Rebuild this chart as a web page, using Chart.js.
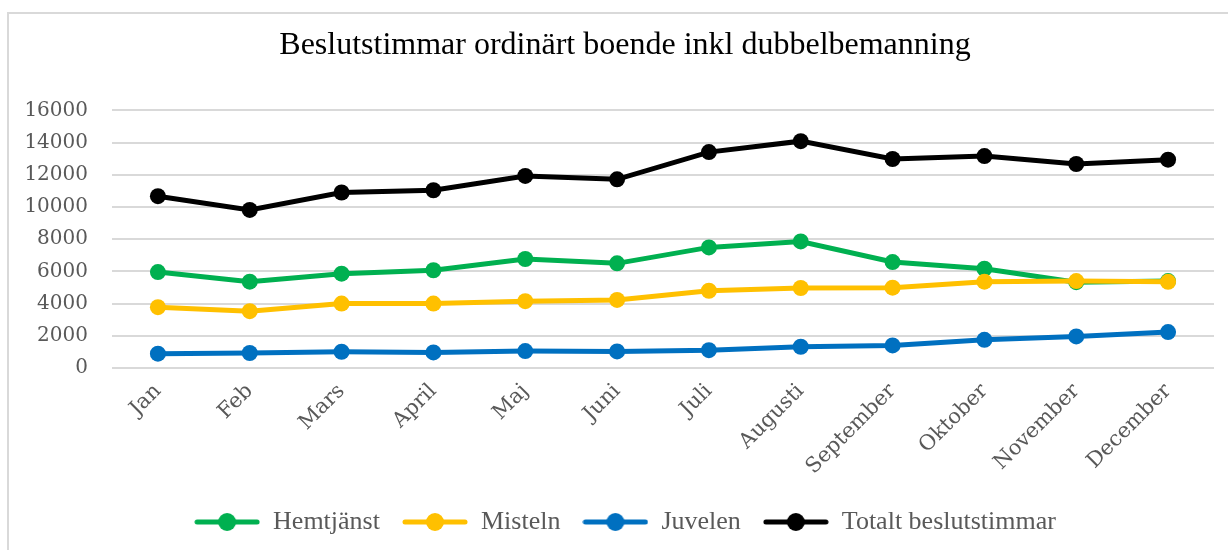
<!DOCTYPE html>
<html>
<head>
<meta charset="utf-8">
<script src="https://cdn.jsdelivr.net/npm/chart.js@4/dist/chart.umd.min.js"></script>
<style>
  html, body { margin: 0; padding: 0; background: #fff; }
  #wrap { position: relative; width: 1228px; height: 550px; overflow: hidden; }
  #frame { position: absolute; left: 7px; top: 12px; width: 1300px; height: 600px; border-left: 2px solid #d9d9d9; border-top: 2px solid #d9d9d9; }
  #c { position: absolute; left: 0; top: 0; }
</style>
</head>
<body>
<div id="wrap">
  <div id="frame"></div>
  <canvas id="c" width="1228" height="550"></canvas>
</div>
<script>
const categories = ["Jan", "Feb", "Mars", "April", "Maj", "Juni", "Juli", "Augusti", "September", "Oktober", "November", "December"];
const hemtjanst = [5960, 5360, 5860, 6070, 6770, 6500, 7490, 7860, 6580, 6170, 5330, 5400];
const misteln   = [3780, 3530, 4000, 4000, 4150, 4230, 4800, 4970, 4990, 5360, 5400, 5350];
const juvelen   = [890, 930, 1010, 970, 1050, 1030, 1110, 1320, 1400, 1750, 1960, 2230];
const totalt    = [10670, 9820, 10900, 11040, 11930, 11720, 13410, 14090, 12980, 13160, 12670, 12940];
const seriesNames = ["Hemtjänst", "Misteln", "Juvelen", "Totalt beslutstimmar"];
const seriesColors = ["#00B050", "#FFC000", "#0070C0", "#000000"];
const titleText = "Beslutstimmar ordinärt boende inkl dubbelbemanning";

function legendMarker(color) {
  const cv = document.createElement('canvas');
  cv.width = 66; cv.height = 22;
  const g = cv.getContext('2d');
  g.strokeStyle = color; g.lineWidth = 5; g.lineCap = 'round';
  g.beginPath(); g.moveTo(3, 11); g.lineTo(63, 11); g.stroke();
  g.fillStyle = color;
  g.beginPath(); g.arc(33, 11, 9, 0, Math.PI * 2); g.fill();
  return cv;
}
const markers = seriesColors.map(legendMarker);

const allData = [hemtjanst, misteln, juvelen, totalt];
const datasets = allData.map((d, i) => ({
  label: seriesNames[i],
  data: d,
  borderColor: seriesColors[i],
  backgroundColor: seriesColors[i],
  borderWidth: 5,
  pointRadius: 8,
  pointHoverRadius: 8,
  pointBorderWidth: 0,
  tension: 0,
  order: 4 - i
}));

const serif = "'Liberation Serif', 'Times New Roman', serif";
const axisSerif = "'DejaVu Serif', Georgia, serif";

// Shift title and legend boxes so they are centred on the whole picture (x = 625)
const centreShift = {
  id: 'centreShift',
  afterLayout(chart) {
    const dx = 13;
    [chart.titleBlock, chart.legend].forEach(b => {
      if (b) { b.left += dx; b.right += dx; }
    });
  }
};

new Chart(document.getElementById('c'), {
  type: 'line',
  data: { labels: categories, datasets },
  plugins: [centreShift],
  options: {
    responsive: false,
    animation: false,
    devicePixelRatio: 1,
    layout: { padding: { left: 10, right: 14, top: 0, bottom: 5 } },
    plugins: {
      title: {
        display: true,
        text: titleText,
        color: '#000',
        font: { family: serif, size: 32, weight: 'normal' },
        padding: { top: 26, bottom: 46 }
      },
      legend: {
        position: 'bottom',
        labels: {
          usePointStyle: true,
          pointStyleWidth: 66,
          color: '#595959',
          font: { family: serif, size: 26 },
          padding: 22,
          generateLabels: (chart) => chart.data.datasets.map((ds, i) => ({
            text: ds.label,
            fillStyle: ds.borderColor,
            strokeStyle: ds.borderColor,
            lineWidth: 0,
            pointStyle: markers[i],
            datasetIndex: i,
            hidden: !chart.isDatasetVisible(i),
            fontColor: '#595959'
          }))
        }
      },
      tooltip: { enabled: false }
    },
    scales: {
      x: {
        offset: true,
        grid: { display: false, drawTicks: false },
        border: { display: false },
        ticks: {
          color: '#595959',
          font: { family: axisSerif, size: 21 },
          maxRotation: 45,
          minRotation: 45,
          padding: 11,
          autoSkip: false
        },
        afterFit: (s) => { s.height = 119; }
      },
      y: {
        min: 0,
        max: 16000,
        ticks: {
          stepSize: 2000,
          color: '#595959',
          font: { family: axisSerif, size: 20 },
          padding: 24,
          callback: (v) => String(v)
        },
        grid: { color: '#d9d9d9', lineWidth: 2, drawTicks: false },
        border: { display: false },
        afterFit: (s) => { s.width = 102; }
      }
    }
  }
});
</script>
</body>
</html>
